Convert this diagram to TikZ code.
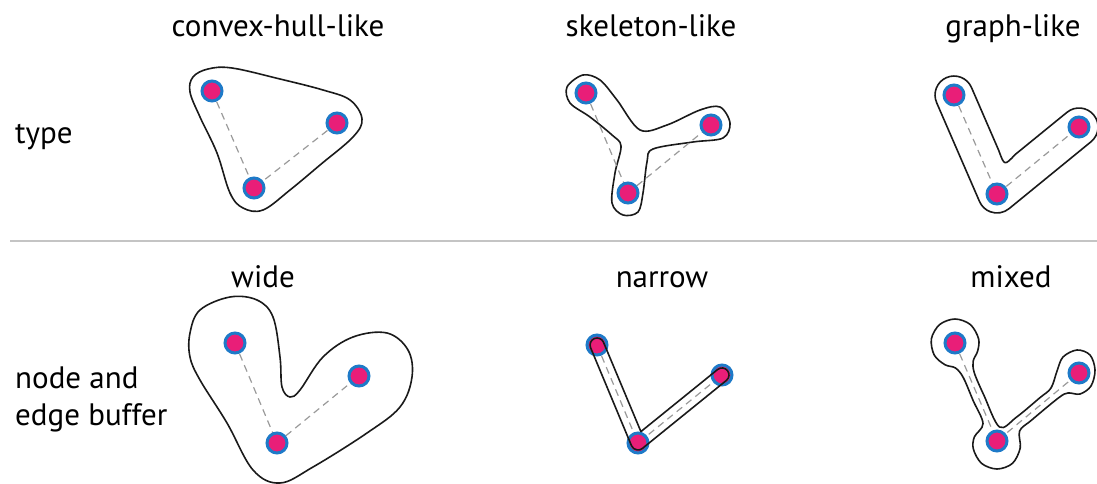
\documentclass[tikz,border=0pt]{standalone}
\usepackage{fontspec}
\setmainfont{PT Sans}
\usetikzlibrary{backgrounds}
\definecolor{dotpink}{HTML}{E91E78}
\definecolor{dotblue}{HTML}{1E7AC8}
\definecolor{hullline}{HTML}{1A1A1A}
\definecolor{edgegray}{HTML}{9A9A9A}
\definecolor{rulegray}{HTML}{C4C4C4}
\tikzset{
  dot/.style={circle, inner sep=0pt, minimum size=20pt, fill=dotpink, draw=dotblue, line width=3pt},
  hull/.style={draw=hullline, line width=1.6pt, line join=round},
  dashedge/.style={draw=edgegray, line width=1.2pt, dash pattern=on 7pt off 5pt},
  title/.style={anchor=base, inner sep=0pt, font=\fontsize{31}{36}\selectfont},
  rowlabel/.style={anchor=base west, inner sep=0pt, align=left, font=\fontsize{31}{37}\selectfont},
}
\begin{document}
\begin{tikzpicture}[x=1pt, y=-1pt]
\useasboundingbox (0,0) rectangle (1097,484);

% column and row labels
\node[title] (t1) at (278,37) {convex-hull-like};
\node[title] (t2) at (651,37) {skeleton-like};
\node[title] (t3) at (1013,37) {graph-like};
\node[title] (t4) at (263,287) {wide};
\node[title] (t5) at (662,287) {narrow};
\node[title] (t6) at (1011,287) {mixed};
\node[rowlabel] (r1) at (15,143) {type};
\node[rowlabel] (r2) at (15,388) {node and};
\node[rowlabel] (r3) at (15,425) {edge buffer};

% separator between the two rows
\coordinate (sepL) at (10,241);
\coordinate (sepR) at (1097,241);
\draw[rulegray, line width=1.3pt] (sepL) -- (sepR);

% points: a = upper left, b = right, c = bottom
\node[dot] (a1) at (212,91) {};
\node[dot] (b1) at (337,123) {};
\node[dot] (c1) at (254,188) {};
\node[dot] (a2) at (586,93) {};
\node[dot] (b2) at (711,125) {};
\node[dot] (c2) at (628,193) {};
\node[dot] (a3) at (954,95) {};
\node[dot] (b3) at (1079,127) {};
\node[dot] (c3) at (997,194) {};
\node[dot] (a4) at (235,343) {};
\node[dot] (b4) at (359,376) {};
\node[dot] (c4) at (277,443) {};
\node[dot] (a5) at (597,345) {};
\node[dot] (b5) at (722,375) {};
\node[dot] (c5) at (638,443) {};
\node[dot] (a6) at (955,343) {};
\node[dot] (b6) at (1079,373) {};
\node[dot] (c6) at (997,441) {};

\begin{pgfonlayer}{background}
% convex-hull-like
\draw[hull] plot[smooth cycle, tension=0.6] coordinates {
  (193,77) (208,69) (232,68) (280,79) (323,90) (350,100) (362,119) (353,137)
  (320,165) (290,190) (263,210) (243,208) (230,193) (217,153) (200,117) (190,92)};

% skeleton-like
\draw[hull] plot[smooth cycle, tension=0.55] coordinates {
  (583,75) (600,80) (617,100) (640,130) (667,125) (700,110) (720,107) (730,123)
  (723,138) (693,142) (653,149) (647,162) (643,193) (638,212) (623,215) (612,203)
  (615,173) (621,146) (612,135) (590,117) (570,103) (567,87)};

% graph-like: buffer of width 19 around both edges, rounded inner bend
\draw[hull] (936.6,102.6)
  arc[start angle=156.5, end angle=336.5, radius=19]
  -- (998.8,150.6) .. controls (1004.4,166) .. (1015.2,154.5)
  -- (1067.0,112.3)
  arc[start angle=230.7, end angle=410.7, radius=19]
  -- (1009.0,208.7)
  arc[start angle=50.7, end angle=156.5, radius=19]
  -- cycle;

% wide
\draw[hull] plot[smooth cycle, tension=0.6] coordinates {
  (190,333) (200,310) (230,297) (257,300) (273,317) (280,357) (282,387) (290,397)
  (300,390) (323,357) (353,337) (387,333) (408,350) (412,377) (400,407) (367,433)
  (313,467) (280,483) (253,470) (227,423) (200,380) (190,357)};

% mixed: round buffers at the points joined by thin strips
\draw[hull] plot[smooth cycle, tension=0.55] coordinates {
  (944.9,364.7) (934.2,355) (931.4,338.8) (939.6,324.6) (955,319) (970.4,324.6)
  (978.6,338.8) (977.6,351.2) (973.2,361) (974.3,372.8) (984.1,395.7) (999.5,427)
  (1016.3,417.3) (1039.4,398.1) (1051,388) (1057,371) (1063,357) (1077,350)
  (1090,355) (1095,370) (1091,386) (1080,394) (1068,393) (1058.6,397.8)
  (1031.6,420.1) (1019.6,431) (1020.2,448) (1012.4,463.4) (997,469) (981.6,463.4)
  (973.4,449.2) (974.4,436.8) (983,423.5) (973.1,400.5) (963.3,377.6) (955.5,368)};

% dashed edges between the points of each panel
\foreach \p in {1,...,6}{
  \draw[dashedge] (a\p.center) -- (c\p.center) -- (b\p.center);
}
\end{pgfonlayer}

% narrow buffer: thin capsules along both edges, drawn over the points
\draw[hull] (640.9,431.6) -- (603.5,342.3)
  arc[start angle=-22.7, end angle=-202.7, radius=7]
  -- (631.5,445.7)
  arc[start angle=157.3, end angle=51.0, radius=7]
  -- (726.4,380.4)
  arc[start angle=51.0, end angle=-129.0, radius=7]
  -- cycle;
\end{tikzpicture}
\end{document}
